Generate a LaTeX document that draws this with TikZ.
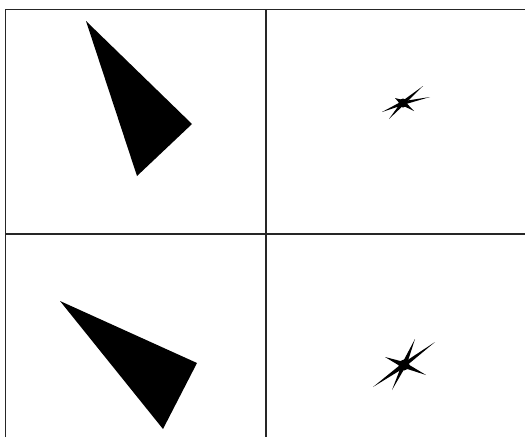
\documentclass[tikz,border=0pt]{standalone}
\usetikzlibrary{calc}
\begin{document}
\begin{tikzpicture}[x=1pt,y=-1pt,
  gridline/.style={line width=1.4pt,color=black!85},
  blackfill/.style={fill=black}]
\useasboundingbox (0,0) rectangle (525,437);
% grid
\draw[gridline] (5.5,437) -- (5.5,9.5) -- (525,9.5);
\draw[gridline] (266,9.5) -- (266,437);
\draw[gridline] (5.5,234) -- (525,234);
% triangles
\fill[blackfill] (86,21) -- (192,124) -- (137,176) -- cycle;
\fill[blackfill] (60,301) -- (197,363) -- (163,429) -- cycle;
% star macro
\newcommand{\spike}[3]{%
  \fill[blackfill] ($(#1)!#3pt!90:(#2)$) -- (#2) -- ($(#1)!#3pt!-90:(#2)$) -- cycle;}
% top star
\coordinate (sa) at (403,103);
\fill[blackfill] (sa) circle (4.5);
\spike{sa}{423,86}{2}
\spike{sa}{430,97}{1.8}
\spike{sa}{382,112}{2}
\spike{sa}{389,119}{2}
\spike{sa}{414,111}{2.5}
\spike{sa}{395,98}{3}
% bottom star
\coordinate (sb) at (404,365);
\fill[blackfill] (sb) circle (5.5);
\spike{sb}{415,339}{2.5}
\spike{sb}{435,342}{2.2}
\spike{sb}{426,375}{2.8}
\spike{sb}{385,357}{3}
\spike{sb}{373,387}{2.5}
\spike{sb}{392,390}{2.2}
\end{tikzpicture}
\end{document}
